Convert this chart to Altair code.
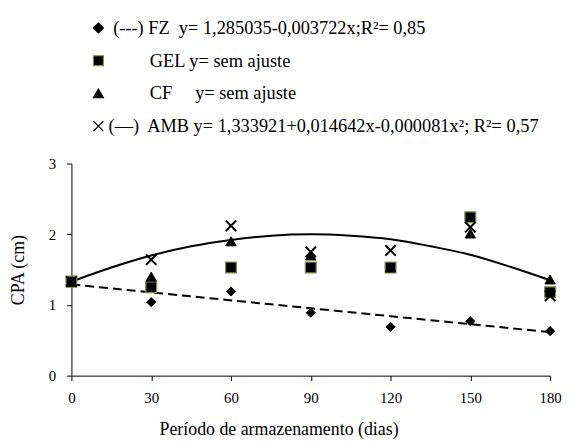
import altair as alt
import pandas as pd

# ---- data ----
days = [0, 30, 60, 90, 120, 150, 180]
fz = [1.33, 1.04, 1.19, 0.89, 0.69, 0.77, 0.63]
gel = [1.33, 1.25, 1.53, 1.53, 1.53, 2.24, 1.18]
cf = [1.33, 1.40, 1.90, 1.70, 1.53, 2.01, 1.36]
amb = [1.33, 1.64, 2.12, 1.75, 1.77, 2.10, 1.13]

# fitted curves
amb_fit_days = [0, 15, 30, 45, 60, 75, 90, 105, 120, 135, 150, 165, 180]
amb_fit = [1.33, 1.53, 1.70, 1.83, 1.92, 1.98, 2.00, 1.98, 1.93, 1.83, 1.71, 1.54, 1.35]
fz_fit_days = [0, 180]
fz_fit = [1.29, 0.615]

NB = "\u00a0"
ZW = "\u200b"
labels = [
    ZW + NB + "(---) FZ" + NB + " y= 1,285035-0,003722x;R²= 0,85",
    ZW + NB * 9 + "GEL y= sem ajuste",
    ZW + NB * 9 + "CF" + NB * 4 + " y= sem ajuste",
    "(—)" + NB + " AMB y= 1,333921+0,014642x-0,000081x²; R²= 0,57",
]
shapes = ["diamond", "square", "triangle-up", "M-1,-1L1,1M-1,1L1,-1"]
fills = ["black", "black", "black", "transparent"]
strokes = ["black", "#77933C", "black", "black"]
sizes = [85, 120, 110, 110]
widths = [1, 1.2, 1, 2]

rows = []
for lab, vals in zip(labels, [fz, gel, cf, amb]):
    for d, v in zip(days, vals):
        rows.append({"dias": d, "cpa": v, "serie": lab})
pts = pd.DataFrame(rows)

fit_amb = pd.DataFrame({"dias": amb_fit_days, "cpa": amb_fit})
fit_fz = pd.DataFrame({"dias": fz_fit_days, "cpa": fz_fit})

FONT = "Liberation Serif"

xscale = alt.Scale(domain=[0, 180], nice=False, zero=False)
yscale = alt.Scale(domain=[0, 3], nice=False)

xenc = alt.X("dias:Q", scale=xscale,
             axis=alt.Axis(values=days, title="Período de armazenamento (dias)",
                           format="d", labelFlush=False,
                           titleX=209, titleY=54, titleAlign="center",
                           titleBaseline="middle"))
yenc = alt.Y("cpa:Q", scale=yscale,
             axis=alt.Axis(values=[0, 1, 2, 3], title="CPA (cm)", format="d",
                           titleX=-53, titleY=107, titleAlign="center",
                           titleBaseline="middle", titleAngle=270))

line_amb = alt.Chart(fit_amb).mark_line(color="black", strokeWidth=2, interpolate="monotone").encode(
    x=xenc, y=yenc)
line_fz = alt.Chart(fit_fz).mark_line(color="black", strokeWidth=2, strokeDash=[9, 5]).encode(
    x=xenc, y=yenc)

leg = alt.Legend(title=None, orient="none", legendX=18, legendY=-146,
                 labelLimit=1000, rowPadding=14, labelOffset=1)

base_pts = alt.Chart(pts)
point_layers = []
for lab, sz, sw in zip(labels, sizes, widths):
    point_layers.append(
        base_pts.mark_point(opacity=1, size=sz, strokeWidth=sw).encode(
            x=xenc,
            y=yenc,
            shape=alt.Shape("serie:N", scale=alt.Scale(domain=labels, range=shapes), legend=leg),
            fill=alt.Fill("serie:N", scale=alt.Scale(domain=labels, range=fills), legend=leg),
            stroke=alt.Stroke("serie:N", scale=alt.Scale(domain=labels, range=strokes), legend=leg),
        ).transform_filter(alt.datum.serie == lab)
    )

chart = alt.layer(line_fz, line_amb, *point_layers).properties(
    width=483, height=214,
    padding={"left": 2, "top": 9, "right": 0, "bottom": 0},
).configure_view(stroke=None).configure_axis(
    grid=False,
    domainColor="black",
    tickColor="black",
    labelColor="black",
    titleColor="black",
    labelFont=FONT,
    titleFont=FONT,
    labelFontSize=15,
    titleFontSize=18,
    titleFontWeight="normal",
    tickSize=5,
).configure_axisY(
    labelPadding=11,
).configure_axisX(
    labelPadding=10,
).configure_legend(
    labelFont=FONT, labelFontSize=18.5, labelColor="black",
    symbolSize=100, symbolStrokeWidth=1.2, padding=0,
)

chart.save("out.html", embed_options={"renderer": "svg", "actions": False})
